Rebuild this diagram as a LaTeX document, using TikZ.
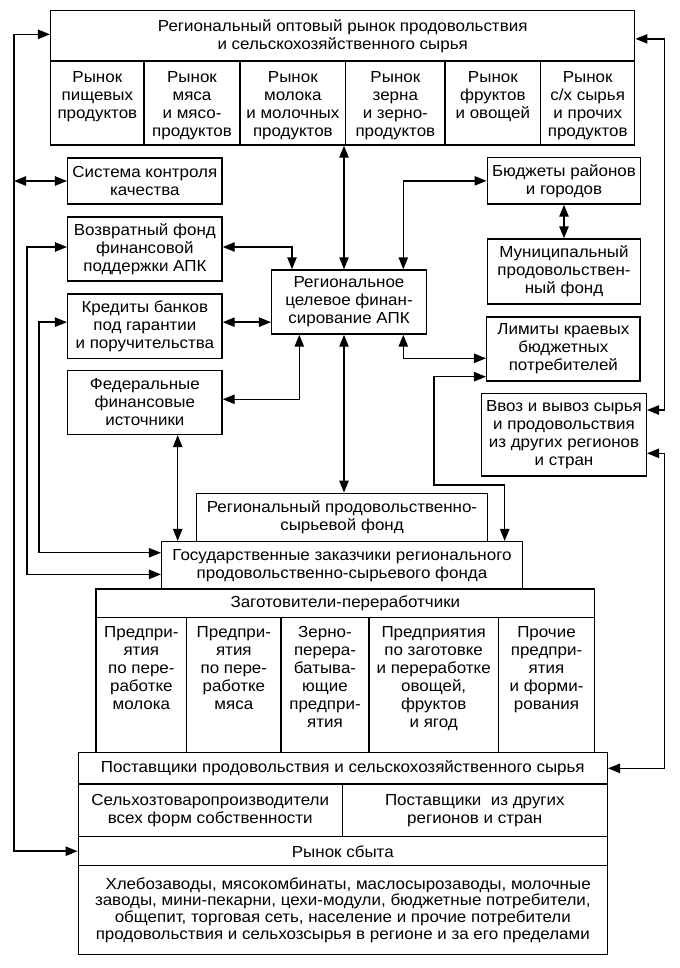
\documentclass[tikz,border=0pt]{standalone}
\usepackage{fontspec}
\setmainfont{Liberation Sans}[FakeStretch=1.06]
\usetikzlibrary{arrows.meta,calc}
\newcommand\mfs{\fontsize{12}{13.5}\selectfont}
\newcommand\bfs{\fontsize{12}{12.6}\selectfont}
% \bx[opts]{name}{x1}{y1}{x2}{y2}{text}
\newcommand\bx[7][]{\node[box,#1,minimum width={(#5-#3)*0.75pt},minimum height={(#6-#4)*0.75pt}] (#2) at ({(#3+#5)/2},{(#4+#6)/2}) {#7};}
\begin{document}
\begin{tikzpicture}[x=0.75pt,y=-0.75pt,
  box/.style={draw, line width=1.1pt, inner sep=0pt, align=center, font=\mfs},
  lbl/.style={align=center, inner sep=0pt, anchor=north, font=\mfs},
  link/.style={line width=1.1pt, {Triangle[length=9pt,width=7pt]}-{Triangle[length=9pt,width=7pt]}}]
\fill[white] (0,0) rectangle (679,968);
\useasboundingbox (0,0) rectangle (679,968);

% top block
\bx{top}{50.7}{10.7}{634.7}{61}{Региональный оптовый рынок продовольствия\\и сельскохозяйственного сырья}
\bx{c1}{50.7}{61}{144}{145}{}
\bx{c2}{144}{61}{240}{145}{}
\bx{c3}{240}{61}{345.7}{145}{}
\bx{c4}{345.7}{61}{445}{145}{}
\bx{c5}{445}{61}{540.7}{145}{}
\bx{c6}{540.7}{61}{634.7}{145}{}
\node[lbl] (t1) at ($(c1.north)+(0,11)$) {Рынок\\пищевых\\продуктов};
\node[lbl] (t2) at ($(c2.north)+(0,11)$) {Рынок\\мяса\\и мясо-\\продуктов};
\node[lbl] (t3) at ($(c3.north)+(0,11)$) {Рынок\\молока\\и молочных\\продуктов};
\node[lbl] (t4) at ($(c4.north)+(0,11)$) {Рынок\\зерна\\и зерно-\\продуктов};
\node[lbl] (t5) at ($(c5.north)+(0,11)$) {Рынок\\фруктов\\и овощей};
\node[lbl] (t6) at ($(c6.north)+(0,11)$) {Рынок\\с/х сырья\\и прочих\\продуктов};

% left column
\bx{sys}{67.7}{158}{222}{204}{Система контроля\\качества}
\bx{vozv}{67.7}{217}{222}{281}{Возвратный фонд\\финансовой\\поддержки АПК}
\bx{kred}{67.7}{294}{222}{358.3}{Кредиты банков\\под гарантии\\и поручительства}
\bx{fed}{67.7}{370.7}{222}{434.3}{Федеральные\\финансовые\\источники}

% centre
\bx{reg}{271.7}{270}{426.3}{334}{Региональное\\целевое финан-\\сирование АПК}

% right column
\bx{bud}{487.3}{157.7}{640.7}{204}{Бюджеты районов\\и городов}
\bx{mun}{487.3}{239}{640.7}{304}{Муниципальный\\продовольствен-\\ный фонд}
\bx{lim}{486.7}{317}{640}{381}{Лимиты краевых\\бюджетных\\потребителей}
\bx{vvoz}{481.7}{393.3}{646.3}{476}{Ввоз и вывоз сырья\\и продовольствия\\из других регионов\\и стран}

% funds
\bx{fond}{196.7}{493.3}{487.3}{541.7}{Региональный продовольственно-\\сырьевой фонд}
\bx{gos}{161.7}{541.7}{522.3}{589}{Государственные заказчики регионального\\продовольственно-сырьевого фонда}

% processors
\bx{zag}{96}{589}{594.7}{617.7}{Заготовители-переработчики}
\bx{z1}{96}{617.7}{186.7}{752.7}{}
\bx{z2}{186.7}{617.7}{281}{752.7}{}
\bx{z3}{281}{617.7}{369}{752.7}{}
\bx{z4}{369}{617.7}{498.3}{752.7}{}
\bx{z5}{498.3}{617.7}{594.7}{752.7}{}
\node[lbl] (s1) at ($(z1.north)+(0,9)$) {Предпри-\\ятия\\по пере-\\работке\\молока};
\node[lbl] (s2) at ($(z2.north)+(0,9)$) {Предпри-\\ятия\\по пере-\\работке\\мяса};
\node[lbl] (s3) at ($(z3.north)+(0,9)$) {Зерно-\\перера-\\батыва-\\ющие\\предпри-\\ятия};
\node[lbl] (s4) at ($(z4.north)+(0,9)$) {Предприятия\\по заготовке\\и переработке\\овощей,\\фруктов\\и ягод};
\node[lbl] (s5) at ($(z5.north)+(0,9)$) {Прочие\\предпри-\\ятия\\и форми-\\рования};

% suppliers and market
\bx{post}{78.3}{752.7}{607.3}{784}{Поставщики продовольствия и сельскохозяйственного сырья}
\bx{selh}{78.3}{784}{342.3}{836.7}{Сельхозтоваропроизводители\\всех форм собственности}
\bx{other}{342.3}{784}{607.3}{836.7}{Поставщики\ \ из других\\регионов и стран}
\bx{sbyt}{78.3}{836.7}{607.3}{865.7}{Рынок сбыта}
\bx[font=\bfs]{cons}{78.3}{865.7}{607.3}{954.3}{\hspace*{8pt}Хлебозаводы, мясокомбинаты, маслосырозаводы, молочные\\заводы, мини-пекарни, цехи-модули, бюджетные потребители,\\общепит, торговая сеть, население и прочие потребители\\продовольствия и сельхозсырья в регионе и за его пределами}

% helper coordinates
\coordinate (L1) at (14,0);
\coordinate (L2) at (27,0);
\coordinate (L3) at (39,0);
\coordinate (R) at (664.5,0);
\coordinate (cx) at (344,0);
\coordinate (cr) at (403.3,0);
\coordinate (cv) at (292,0);
\coordinate (cf) at (299.3,0);
\coordinate (cfd) at (177.7,0);
\coordinate (cm) at (434,485);
\coordinate (cg) at (504.7,0);
\coordinate (g1) at ($(gos.west)+(0,-12.6)$);
\coordinate (g2) at ($(gos.west)+(0,9)$);
\coordinate (v1) at ($(vozv.west)+(0,-2)$);
\coordinate (v2) at ($(vozv.east)+(0,-2)$);
\coordinate (k1) at ($(kred.west)+(0,-4)$);
\coordinate (k2) at ($(kred.east)+(0,-4)$);
\coordinate (f2) at ($(fed.east)+(0,-3.2)$);
\coordinate (l1) at ($(lim.west)+(0,9.3)$);
\coordinate (l2) at ($(lim.west)+(0,27.7)$);
\coordinate (w1) at ($(vvoz.east)+(0,-24.65)$);
\coordinate (w2) at ($(vvoz.east)+(0,18.65)$);
\coordinate (te) at ($(top.east)+(0,3)$);
\coordinate (tw) at ($(top.west)+(0,-1.5)$);

% connectors
\draw[link] (tw) -- (tw -| L1) -- (sbyt.west -| L1) -- (sbyt.west);
\draw[link] (sys.west -| L1) -- (sys.west);
\draw[link] (v1) -- (v1 -| L2) -- (g2 -| L2) -- (g2);
\draw[link] (k1) -- (k1 -| L3) -- (g1 -| L3) -- (g1);
\draw[link] (v2) -| (cv |- reg.north);
\draw[link] (k2) -- (k2 -| reg.west);
\draw[link] (f2) -| (cf |- reg.south);
\draw[link] (cx |- c4.south) -- (cx |- reg.north);
\draw[link] (cx |- reg.south) -- (cx |- fond.north);
\draw[link] (bud.west) -| (cr |- reg.north);
\draw[link] (bud.south) -- (mun.north);
\draw[link] (cr |- reg.south) |- (l1);
\draw[link] (l2) -| (cm) -| (cg |- gos.north);
\draw[link] (cfd |- fed.south) -- (cfd |- gos.north);
\draw[link] (te) -- (te -| R) -- (w1 -| R) -- (w1);
\draw[link] (w2) -- (w2 -| R) -- (post.east -| R) -- (post.east);
\end{tikzpicture}
\end{document}
